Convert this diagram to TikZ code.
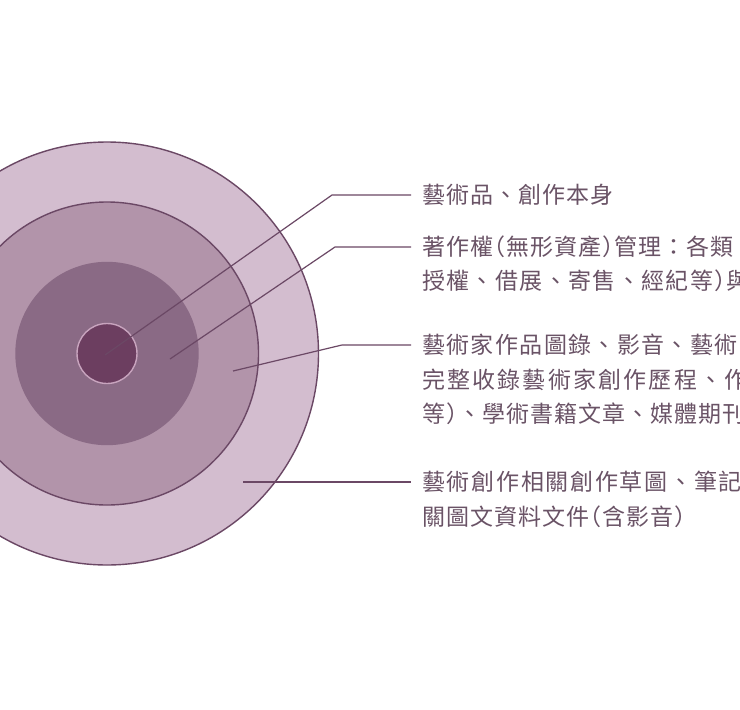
\documentclass[tikz,border=0pt]{standalone}
\usepackage{fontspec}
\newfontfamily\cjkfont{Noto Sans CJK TC}
\definecolor{ringA}{HTML}{D3BDCF}
\definecolor{ringB}{HTML}{B294AA}
\definecolor{ringC}{HTML}{8A6A85}
\definecolor{ringD}{HTML}{6C3E60}
\definecolor{ringDedge}{HTML}{C8A4BE}
\definecolor{edgec}{HTML}{6B4865}
\definecolor{txtc}{HTML}{6A5366}
\newcommand\ls[1]{\addfontfeatures{LetterSpace=#1}}
\newcommand\lpx{\kern-11pt（}
\newcommand\rpx{）\kern-11pt}
\tikzset{
  lbl/.style={anchor=base west, inner sep=0pt, text=txtc,
    font=\cjkfont\fontsize{23}{27}\selectfont},
  leader/.style={draw=edgec, line width=1.2pt, line join=round}
}
\begin{document}
\begin{tikzpicture}[x=1pt,y=-1pt]
\useasboundingbox (0,0) rectangle (740,710);
\clip (0,0) rectangle (740,710);
\fill[white] (0,0) rectangle (740,710);
% rings
\coordinate (ctr) at (107,353.5);
\fill[ringA, draw=edgec, line width=1.4pt] (ctr) circle[radius=211.5];
\fill[ringB, draw=edgec, line width=1.4pt] (ctr) circle[radius=151.5];
\fill[ringC] (ctr) circle[radius=91.7];
\fill[ringD, draw=ringDedge, line width=1.4pt] (ctr) circle[radius=30];
% leader points
\coordinate (s1) at (105,355);
\coordinate (b1) at (332,195);
\coordinate (e1) at (411,195);
\coordinate (s2) at (170,359);
\coordinate (b2) at (335,247);
\coordinate (e2) at (411,247);
\coordinate (s3) at (233,371);
\coordinate (b3) at (342,345);
\coordinate (e3) at (411,345);
\coordinate (s4) at (243,482);
\coordinate (e4) at (411,482);
\draw[leader] (s1) -- (b1) -- (e1);
\draw[leader] (s2) -- (b2) -- (e2);
\draw[leader] (s3) -- (b3) -- (e3);
\draw[leader] (s4) -- (e4);
% labels
\node[lbl] (t1) at (422,203.5) {\ls{4.5}藝術品、創作本身};
\node[lbl] (t2a) at (422,255.5) {\ls{4.5}著作權\lpx 無形資產\rpx 管理：各類};
\node[lbl] (t2b) at (422,289.5) {\ls{6}授權、借展、寄售、經紀等\rpx 與};
\node[lbl] (t3a) at (422,353.5) {\ls{6}藝術家作品圖錄、影音、藝術};
\node[lbl] (t3b) at (422,388.5) {\ls{9.5}完整收錄藝術家創作歷程、作};
\node[lbl] (t3c) at (422,422.5) {\ls{4.5}等\rpx 、學術書籍文章、媒體期刊};
\node[lbl] (t4a) at (422,490.5) {\ls{7.5}藝術創作相關創作草圖、筆記};
\node[lbl] (t4b) at (422,525.5) {\ls{4.5}關圖文資料文件\lpx 含影音\rpx};
\end{tikzpicture}
\end{document}
